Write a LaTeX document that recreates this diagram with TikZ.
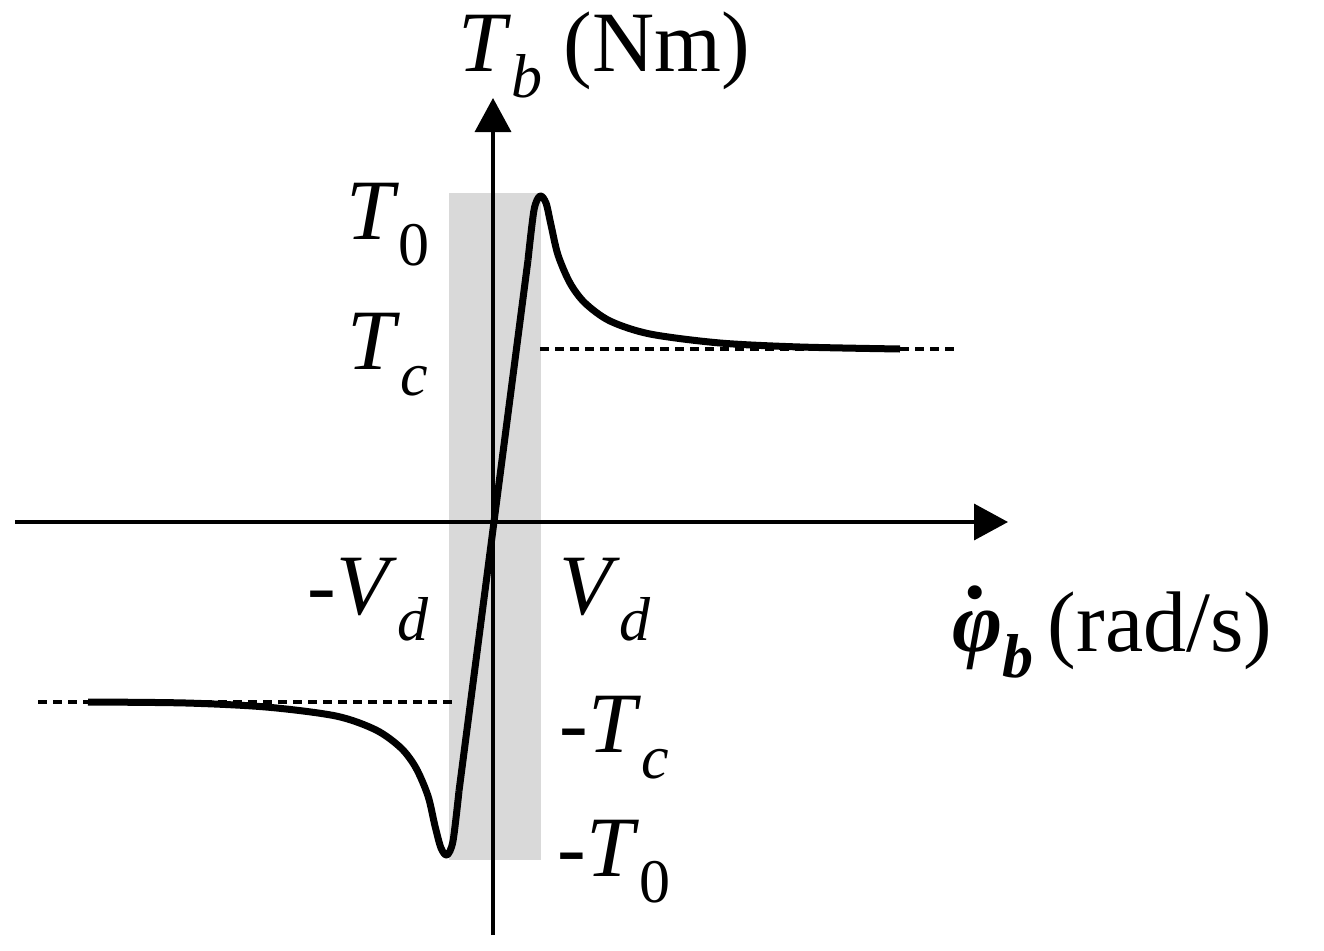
\documentclass[tikz,border=0pt]{standalone}
\usepackage{fontspec}
\setmainfont{Liberation Serif}
\usetikzlibrary{arrows.meta}
\newcommand{\sbt}[1]{\raisebox{-0.3em}{\fontsize{62}{64}\selectfont #1}}
\begin{document}
\begin{tikzpicture}[x=1pt,y=-1pt,
  lbl/.style={font=\fontsize{86}{92}\selectfont, inner sep=0pt},
  ax/.style={line width=3.5pt,-{Triangle[length=34pt,width=36pt]}},
  dsh/.style={line width=3.5pt,dash pattern=on 9pt off 6pt}]
\useasboundingbox (0,0) rectangle (1324,950);
\fill[gray!30] (449,193) rectangle (541,860);
\coordinate (o) at (493,522);
\coordinate (yb) at (493,935);
\coordinate (yt) at (493,98);
\coordinate (xl) at (15,522);
\coordinate (xr) at (1008,522);
\draw[ax] (yb) -- (yt);
\draw[ax] (xl) -- (xr);
\draw[dsh] (540,349) -- (955,349);
\draw[dsh] (38,702) -- (452,702);
\draw[line width=7pt,line join=round] plot[smooth,tension=0.5] coordinates {
 (88,702) (186,703) (266,707) (336,716) (376,730) (401,748) (416,768) (428,796) (435,826) (441,848) (447,855) (453,841) (459,791)
};
\draw[line width=7pt] (459,791) -- (528,260);
\draw[line width=7pt,line join=round] plot[smooth,tension=0.5] coordinates {
 (528,260) (534,210) (540,196) (546,203) (551,225) (558,255) (570,283) (585,303) (610,321) (650,334) (720,343) (800,347) (900,349)
};
\node[lbl] (t0) at (388,225) {\textit{T}\sbt{0}};
\node[lbl] (tc) at (388,355) {\textit{T}\sbt{\textit{c}}};
\node[lbl] (mvd) at (368,600) {-\textit{V}\sbt{\textit{d}}};
\node[lbl] (vd) at (605,600) {\textit{V}\sbt{\textit{d}}};
\node[lbl] (mtc) at (614,738) {-\textit{T}\sbt{\textit{c}}};
\node[lbl] (mt0) at (614,862) {-\textit{T}\sbt{0}};
\node[lbl,anchor=west] (tb) at (458,55) {\textit{T}\sbt{\textit{b}} (Nm)};
\node[lbl,anchor=west] (phi) at (952,632) {\rlap{\hspace{0.14em}\raisebox{0.62em}{\textbf{.}}}\textbf{\textit{φ}}\sbt{\textbf{\textit{b}}}\,(rad/s)};
\end{tikzpicture}
\end{document}
